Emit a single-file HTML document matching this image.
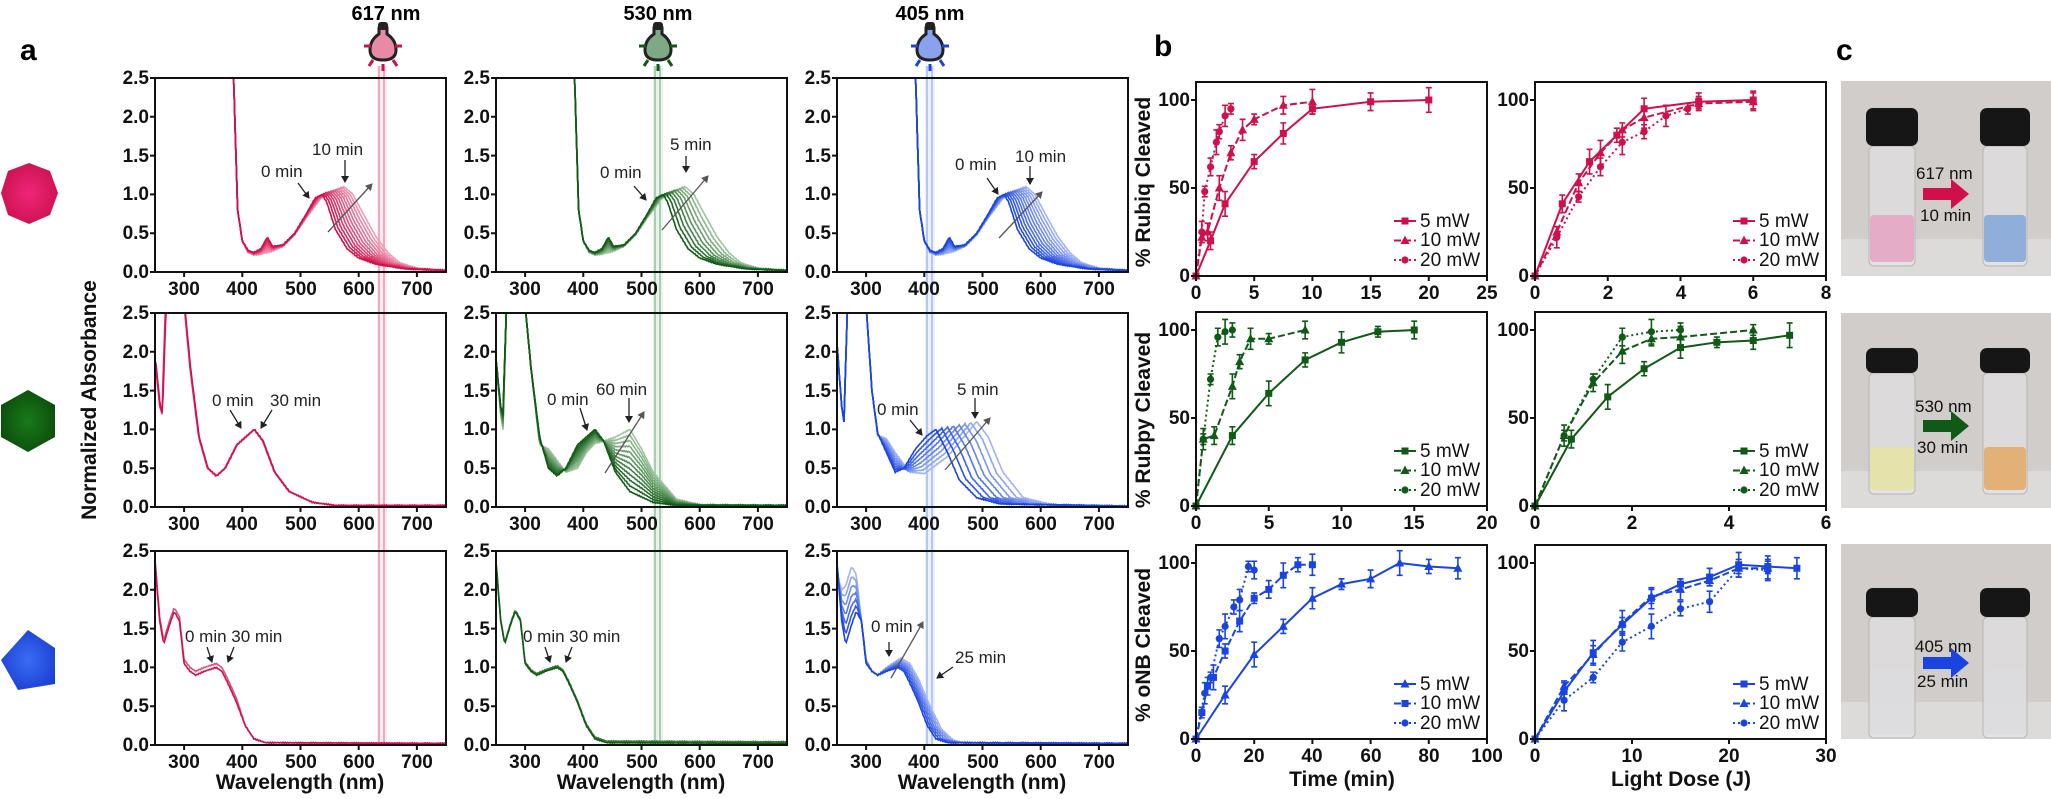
<!DOCTYPE html>
<html><head><meta charset="utf-8"><style>
html,body{margin:0;padding:0;background:#fff;}
svg{display:block;font-family:"Liberation Sans",Arial,sans-serif;}
.tk{font-size:19px;font-weight:bold;fill:#111;}
.an{font-size:17px;fill:#222;}
.lg{font-size:19px;fill:#111;}
.ttl{font-size:21px;font-weight:bold;fill:#111;}
.pl{font-size:30px;font-weight:bold;fill:#000;}
</style></head><body>
<svg id="s" xmlns="http://www.w3.org/2000/svg" width="2051" height="799" viewBox="0 0 2051 799">
<defs>
<radialGradient id="gr" cx="0.5" cy="0.5" r="0.6"><stop offset="0" stop-color="#f0257a"/><stop offset="1" stop-color="#c8104a"/></radialGradient>
<radialGradient id="gg" cx="0.5" cy="0.5" r="0.6"><stop offset="0" stop-color="#1a7a1a"/><stop offset="1" stop-color="#0a4a0a"/></radialGradient>
<radialGradient id="gb" cx="0.5" cy="0.5" r="0.6"><stop offset="0" stop-color="#3a6cf5"/><stop offset="1" stop-color="#1a3ed0"/></radialGradient>
</defs>
<g id="bg"></g>
<g id="curves"></g>
<g id="frames"></g>

<text class="pl" x="20" y="60">a</text>
<text class="pl" x="1154" y="56">b</text>
<text class="pl" x="1836" y="60">c</text>

<text x="386" y="20" text-anchor="middle" style="font-size:20px;font-weight:bold">617 nm</text>
<text x="658" y="20" text-anchor="middle" style="font-size:20px;font-weight:bold">530 nm</text>
<text x="930" y="20" text-anchor="middle" style="font-size:20px;font-weight:bold">405 nm</text>

<polygon points="29,163 50,171 58,193 50,215 29,224 8,215 1,193 8,171" fill="url(#gr)"/>
<polygon points="28,390 55,405 55,437 28,452 1,437 1,405" fill="url(#gg)"/>
<polygon points="28,630 55,648 55,684 18,690 1,660" fill="url(#gb)"/>

<text class="ttl" transform="translate(96,400) rotate(-90)" text-anchor="middle">Normalized Absorbance</text>
<text class="ttl" x="300" y="789" text-anchor="middle">Wavelength (nm)</text>
<text class="ttl" x="641" y="789" text-anchor="middle">Wavelength (nm)</text>
<text class="ttl" x="982" y="789" text-anchor="middle">Wavelength (nm)</text>
<text class="ttl" x="1342" y="786" text-anchor="middle">Time (min)</text>
<text class="ttl" x="1681" y="786" text-anchor="middle">Light Dose (J)</text>
<text class="ttl" transform="translate(1150,182) rotate(-90)" text-anchor="middle">% Rubiq Cleaved</text>
<text class="ttl" transform="translate(1150,420) rotate(-90)" text-anchor="middle">% Rubpy Cleaved</text>
<text class="ttl" transform="translate(1150,645) rotate(-90)" text-anchor="middle">% oNB Cleaved</text>

<g id="ta">
<g transform="translate(155,78)" class="tk"><g text-anchor="end"><text x="-6" y="200">0.0</text><text x="-6" y="161">0.5</text><text x="-6" y="122">1.0</text><text x="-6" y="84">1.5</text><text x="-6" y="45">2.0</text><text x="-6" y="6">2.5</text></g><g text-anchor="middle"><text x="29" y="217">300</text><text x="87" y="217">400</text><text x="146" y="217">500</text><text x="204" y="217">600</text><text x="262" y="217">700</text></g></g>
<g transform="translate(496,78)" class="tk"><g text-anchor="end"><text x="-6" y="200">0.0</text><text x="-6" y="161">0.5</text><text x="-6" y="122">1.0</text><text x="-6" y="84">1.5</text><text x="-6" y="45">2.0</text><text x="-6" y="6">2.5</text></g><g text-anchor="middle"><text x="29" y="217">300</text><text x="87" y="217">400</text><text x="146" y="217">500</text><text x="204" y="217">600</text><text x="262" y="217">700</text></g></g>
<g transform="translate(837,78)" class="tk"><g text-anchor="end"><text x="-6" y="200">0.0</text><text x="-6" y="161">0.5</text><text x="-6" y="122">1.0</text><text x="-6" y="84">1.5</text><text x="-6" y="45">2.0</text><text x="-6" y="6">2.5</text></g><g text-anchor="middle"><text x="29" y="217">300</text><text x="87" y="217">400</text><text x="146" y="217">500</text><text x="204" y="217">600</text><text x="262" y="217">700</text></g></g>
<g transform="translate(155,313)" class="tk"><g text-anchor="end"><text x="-6" y="200">0.0</text><text x="-6" y="161">0.5</text><text x="-6" y="122">1.0</text><text x="-6" y="84">1.5</text><text x="-6" y="45">2.0</text><text x="-6" y="6">2.5</text></g><g text-anchor="middle"><text x="29" y="217">300</text><text x="87" y="217">400</text><text x="146" y="217">500</text><text x="204" y="217">600</text><text x="262" y="217">700</text></g></g>
<g transform="translate(496,313)" class="tk"><g text-anchor="end"><text x="-6" y="200">0.0</text><text x="-6" y="161">0.5</text><text x="-6" y="122">1.0</text><text x="-6" y="84">1.5</text><text x="-6" y="45">2.0</text><text x="-6" y="6">2.5</text></g><g text-anchor="middle"><text x="29" y="217">300</text><text x="87" y="217">400</text><text x="146" y="217">500</text><text x="204" y="217">600</text><text x="262" y="217">700</text></g></g>
<g transform="translate(837,313)" class="tk"><g text-anchor="end"><text x="-6" y="200">0.0</text><text x="-6" y="161">0.5</text><text x="-6" y="122">1.0</text><text x="-6" y="84">1.5</text><text x="-6" y="45">2.0</text><text x="-6" y="6">2.5</text></g><g text-anchor="middle"><text x="29" y="217">300</text><text x="87" y="217">400</text><text x="146" y="217">500</text><text x="204" y="217">600</text><text x="262" y="217">700</text></g></g>
<g transform="translate(155,551)" class="tk"><g text-anchor="end"><text x="-6" y="200">0.0</text><text x="-6" y="161">0.5</text><text x="-6" y="122">1.0</text><text x="-6" y="84">1.5</text><text x="-6" y="45">2.0</text><text x="-6" y="6">2.5</text></g><g text-anchor="middle"><text x="29" y="217">300</text><text x="87" y="217">400</text><text x="146" y="217">500</text><text x="204" y="217">600</text><text x="262" y="217">700</text></g></g>
<g transform="translate(496,551)" class="tk"><g text-anchor="end"><text x="-6" y="200">0.0</text><text x="-6" y="161">0.5</text><text x="-6" y="122">1.0</text><text x="-6" y="84">1.5</text><text x="-6" y="45">2.0</text><text x="-6" y="6">2.5</text></g><g text-anchor="middle"><text x="29" y="217">300</text><text x="87" y="217">400</text><text x="146" y="217">500</text><text x="204" y="217">600</text><text x="262" y="217">700</text></g></g>
<g transform="translate(837,551)" class="tk"><g text-anchor="end"><text x="-6" y="200">0.0</text><text x="-6" y="161">0.5</text><text x="-6" y="122">1.0</text><text x="-6" y="84">1.5</text><text x="-6" y="45">2.0</text><text x="-6" y="6">2.5</text></g><g text-anchor="middle"><text x="29" y="217">300</text><text x="87" y="217">400</text><text x="146" y="217">500</text><text x="204" y="217">600</text><text x="262" y="217">700</text></g></g>
</g>

<g class="tk">
<g transform="translate(1196,82)"><g text-anchor="end"><text x="-6" y="200">0</text><text x="-6" y="112">50</text><text x="-6" y="24">100</text></g><g text-anchor="middle"><text x="0" y="217">0</text><text x="58" y="217">5</text><text x="116" y="217">10</text><text x="175" y="217">15</text><text x="233" y="217">20</text><text x="291" y="217">25</text></g></g>
<g transform="translate(1535,82)"><g text-anchor="end"><text x="-6" y="200">0</text><text x="-6" y="112">50</text><text x="-6" y="24">100</text></g><g text-anchor="middle"><text x="0" y="217">0</text><text x="73" y="217">2</text><text x="146" y="217">4</text><text x="218" y="217">6</text><text x="291" y="217">8</text></g></g>
<g transform="translate(1196,312)"><g text-anchor="end"><text x="-6" y="200">0</text><text x="-6" y="112">50</text><text x="-6" y="24">100</text></g><g text-anchor="middle"><text x="0" y="217">0</text><text x="73" y="217">5</text><text x="146" y="217">10</text><text x="218" y="217">15</text><text x="291" y="217">20</text></g></g>
<g transform="translate(1535,312)"><g text-anchor="end"><text x="-6" y="200">0</text><text x="-6" y="112">50</text><text x="-6" y="24">100</text></g><g text-anchor="middle"><text x="0" y="217">0</text><text x="97" y="217">2</text><text x="194" y="217">4</text><text x="291" y="217">6</text></g></g>
<g transform="translate(1196,545)"><g text-anchor="end"><text x="-6" y="200">0</text><text x="-6" y="112">50</text><text x="-6" y="24">100</text></g><g text-anchor="middle"><text x="0" y="217">0</text><text x="58" y="217">20</text><text x="116" y="217">40</text><text x="175" y="217">60</text><text x="233" y="217">80</text><text x="291" y="217">100</text></g></g>
<g transform="translate(1535,545)"><g text-anchor="end"><text x="-6" y="200">0</text><text x="-6" y="112">50</text><text x="-6" y="24">100</text></g><g text-anchor="middle"><text x="0" y="217">0</text><text x="97" y="217">10</text><text x="194" y="217">20</text><text x="291" y="217">30</text></g></g>
</g>

<g class="lg">
<g transform="translate(1196,82)"><text x="224" y="145">5 mW</text><text x="224" y="164">10 mW</text><text x="224" y="184">20 mW</text></g>
<g transform="translate(1535,82)"><text x="224" y="145">5 mW</text><text x="224" y="164">10 mW</text><text x="224" y="184">20 mW</text></g>
<g transform="translate(1196,312)"><text x="224" y="145">5 mW</text><text x="224" y="164">10 mW</text><text x="224" y="184">20 mW</text></g>
<g transform="translate(1535,312)"><text x="224" y="145">5 mW</text><text x="224" y="164">10 mW</text><text x="224" y="184">20 mW</text></g>
<g transform="translate(1196,545)"><text x="224" y="145">5 mW</text><text x="224" y="164">10 mW</text><text x="224" y="184">20 mW</text></g>
<g transform="translate(1535,545)"><text x="224" y="145">5 mW</text><text x="224" y="164">10 mW</text><text x="224" y="184">20 mW</text></g>
</g>

<g class="an">
<text x="261" y="177">0 min</text><text x="312" y="155">10 min</text>
<text x="600" y="178">0 min</text><text x="670" y="150">5 min</text>
<text x="955" y="170">0 min</text><text x="1015" y="162">10 min</text>
<text x="212" y="406">0 min</text><text x="270" y="406">30 min</text>
<text x="547" y="405">0 min</text><text x="596" y="395">60 min</text>
<text x="877" y="415">0 min</text><text x="957" y="395">5 min</text>
<text x="185" y="642">0 min 30 min</text>
<text x="523" y="642">0 min 30 min</text>
<text x="871" y="632">0 min</text><text x="955" y="663">25 min</text>
</g>
<g id="arrows"></g>

<g id="photos"></g>
<g style="font-size:17px;fill:#111">
<text x="1916" y="179">617 nm</text><text x="1920" y="221">10 min</text>
<text x="1915" y="412">530 nm</text><text x="1917" y="453">30 min</text>
<text x="1915" y="652">405 nm</text><text x="1917" y="687">25 min</text>
</g>
</svg>
<script>
const NS='http://www.w3.org/2000/svg';
function el(tag,a,p){const e=document.createElementNS(NS,tag);for(const k in a)e.setAttribute(k,a[k]);(p||document.getElementById('curves')).appendChild(e);return e;}
const L=[155,496,837],T=[78,313,551],W=291,H=194;
const curves=document.getElementById('curves'),frames=document.getElementById('frames'),bg=document.getElementById('bg');
function X(c,nm){return L[c]+(nm-250)*W/500}
function Y(r,a){return T[r]+H-a*H/2.5}
function hex(c){return [parseInt(c.substr(1,2),16),parseInt(c.substr(3,2),16),parseInt(c.substr(5,2),16)]}
function lc(a,b,t){const A=hex(a),B=hex(b);return 'rgb('+A.map((v,i)=>Math.round(v+(B[i]-v)*t)).join(',')+')'}
function interp(p,nm){if(nm<=p[0][0])return p[0][1];for(let i=1;i<p.length;i++){if(nm<=p[i][0]){const f=(nm-p[i-1][0])/(p[i][0]-p[i-1][0]||1);return p[i-1][1]+f*(p[i][1]-p[i-1][1]);}}return p[p.length-1][1]}
const defs=document.querySelector('defs');
for(let r=0;r<3;r++)for(let c=0;c<3;c++){const cp=el('clipPath',{id:'c'+r+c},defs);el('rect',{x:L[c],y:T[r],width:W,height:H},cp);}
const bands=[[381,'#e0507a'],[657,'#4a9a5a'],[929,'#6a8af0']];
bands.forEach(b=>{el('rect',{x:b[0]-4,y:66,width:10,height:679,fill:b[1],opacity:0.12},bg);el('line',{x1:b[0]-2,y1:66,x2:b[0]-2,y2:745,stroke:b[1],'stroke-width':1.5,opacity:0.55},bg);el('line',{x1:b[0]+3,y1:66,x2:b[0]+3,y2:745,stroke:b[1],'stroke-width':1.5,opacity:0.55},bg);});
function draw(r,c,pts,col){let d='';for(let nm=250;nm<=750;nm+=2){const a=Math.min(interp(pts,nm)+ (Math.sin(nm*1.7)*0.006),2.7);d+=(d?'L':'M')+X(c,nm).toFixed(1)+','+Y(r,a).toFixed(1);}el('path',{d:d,fill:'none',stroke:col,'stroke-width':1.6,'clip-path':'url(#c'+r+c+')'});}
function shiftSeries(r,c,S,E,n,c0,c1){for(let i=n-1;i>=0;i--){const t=i/(n-1);const P=S.map((p,k)=>[p[0]+(E[k][0]-p[0])*t,p[1]+(E[k][1]-p[1])*t]);draw(r,c,P,lc(c0,c1,t*0.85));}}
function blendSeries(r,c,S,E,n,c0,c1){for(let i=n-1;i>=0;i--){const t=i/(n-1);const P=[];for(let nm=250;nm<=750;nm+=2)P.push([nm,interp(S,nm)*(1-t)+interp(E,nm)*t]);draw(r,c,P,lc(c0,c1,t*0.85));}}
const RED0='#d0104a',RED1='#f7b5c8',GR0='#0f5a14',GR1='#b8d8b8',BL0='#1a44e0',BL1='#b8c8f8';
const R1S=[[250,5],[380,5],[385,2.5],[392,0.8],[400,0.4],[410,0.28],[420,0.25],[432,0.3],[443,0.45],[452,0.33],[470,0.35],[490,0.5],[510,0.75],[525,0.95],[537,1.0],[545,0.9],[560,0.55],[580,0.3],[600,0.18],[630,0.1],[680,0.04],[750,0.02]];
const R1E=[[250,5],[380,5],[385,2.5],[392,0.8],[400,0.4],[410,0.25],[420,0.22],[432,0.23],[443,0.25],[452,0.27],[470,0.33],[490,0.48],[510,0.7],[535,0.95],[575,1.1],[590,1.0],[610,0.72],[630,0.45],[650,0.25],[670,0.12],[700,0.05],[750,0.02]];
shiftSeries(0,0,R1S,R1E,12,RED0,RED1);
shiftSeries(0,1,R1S,R1E,9,GR0,GR1);
shiftSeries(0,2,R1S,R1E,12,BL0,BL1);
const P2=[[250,1.9],[258,1.3],[262,1.2],[268,2.6],[300,2.6],[310,1.8],[325,0.9],[340,0.5],[355,0.4],[370,0.5],[390,0.8],[405,0.9],[420,1.0],[435,0.85],[455,0.45],[480,0.2],[520,0.06],[560,0.02],[750,0.02]];
draw(1,0,P2,'#e0306a');draw(1,0,P2.map(p=>[p[0]+1,p[1]]),RED0);
const P2E=[[250,1.9],[258,1.2],[262,1.0],[268,2.6],[300,2.6],[310,1.8],[325,0.8],[340,0.75],[355,0.6],[370,0.45],[390,0.5],[405,0.7],[420,0.82],[435,0.85],[455,0.9],[480,1.0],[500,0.75],[520,0.45],[560,0.1],[600,0.03],[750,0.02]];
blendSeries(1,1,P2,P2E,12,GR0,GR1);
const B2S=[[250,2.1],[258,1.3],[262,1.1],[268,2.6],[300,2.6],[310,1.5],[320,0.95],[335,0.7],[350,0.45],[365,0.5],[385,0.75],[405,0.92],[420,1.0],[440,0.7],[460,0.35],[490,0.12],[530,0.04],[750,0.01]];
const B2E=[[250,2.1],[258,1.3],[262,1.1],[268,2.6],[300,2.6],[310,1.5],[320,0.92],[335,0.88],[350,0.7],[375,0.45],[400,0.43],[440,0.65],[490,1.1],[510,0.9],[535,0.45],[570,0.12],[620,0.03],[750,0.01]];
shiftSeries(1,2,B2S,B2E,8,BL0,BL1);
const R3=[[250,2.35],[258,1.6],[265,1.3],[275,1.55],[283,1.72],[292,1.6],[300,1.05],[310,0.95],[320,0.9],[335,0.95],[355,1.0],[365,0.95],[375,0.8],[390,0.55],[405,0.25],[420,0.08],[440,0.03],[750,0.02]];
draw(2,0,R3.map(p=>[p[0],p[0]<400?p[1]+0.05:p[1]]),'#e0507a');draw(2,0,R3,RED0);
draw(2,1,R3.map(p=>[p[0],p[1]+0.02]),'#3a7a3a');draw(2,1,R3,GR0);
const R3E=[[250,2.2],[258,2.0],[265,2.05],[275,2.3],[283,2.2],[292,1.6],[300,1.1],[310,0.95],[320,0.9],[335,1.0],[360,1.12],[375,1.05],[390,0.85],[410,0.5],[430,0.2],[450,0.06],[470,0.03],[750,0.02]];
shiftSeries(2,2,R3,R3E,7,BL0,BL1);
for(let r=0;r<3;r++)for(let c=0;c<3;c++){
 el('rect',{x:L[c],y:T[r],width:W,height:H,fill:'none',stroke:'#111','stroke-width':2},frames);
 let d='';for(let a=0;a<=2.5;a+=0.5){d+='M'+(L[c]-5)+','+Y(r,a)+'h5';}
 for(let nm=300;nm<=700;nm+=100){d+='M'+X(c,nm)+','+(T[r]+H)+'v5';}
 el('path',{d:d,stroke:'#111','stroke-width':2,fill:'none'},frames);}
const AR=document.getElementById('arrows');
const mk=el('marker',{id:'ah',markerWidth:8,markerHeight:8,refX:6,refY:4,orient:'auto',markerUnits:'userSpaceOnUse'},defs);el('path',{d:'M0,0L7,4L0,8z',fill:'#222'},mk);
const mk2=el('marker',{id:'ag',markerWidth:8,markerHeight:8,refX:6,refY:4,orient:'auto',markerUnits:'userSpaceOnUse'},defs);el('path',{d:'M0,0L7,4L0,8z',fill:'#555'},mk2);
function arr(x1,y1,x2,y2,g){el('line',{x1:x1,y1:y1,x2:x2,y2:y2,stroke:g?'#555':'#222','stroke-width':1.3,'marker-end':g?'url(#ag)':'url(#ah)'},AR);}
arr(298,183,309,198);arr(345,160,345,182);arr(328,232,372,184,1);
arr(634,186,646,200);arr(686,156,686,172);arr(662,230,708,176,1);
arr(987,178,998,194);arr(1030,166,1030,184);arr(999,238,1042,192,1);
arr(230,410,241,428);arr(272,410,261,428);
arr(580,408,587,430);arr(629,398,629,422);arr(605,473,644,412,1);
arr(910,420,922,435);arr(975,398,975,418);arr(945,470,990,418,1);
arr(207,647,212,662);arr(234,647,228,662);
arr(545,647,550,662);arr(572,647,566,662);
arr(889,642,889,656);arr(953,667,937,678);arr(891,678,923,622,1);
function lamp(x,col,fill){const g=el('g',{},bg);
 el('path',{d:`M${x-4},${28} h8 v6 q9,6 9,16 q0,10 -13,10 q-13,0 -13,-10 q0,-10 9,-16z`,fill:fill,stroke:'#222','stroke-width':3},g);
 el('rect',{x:x-5,y:22,width:10,height:8,rx:3,fill:'#222'},g);
 const L2=[[x-19,46,x-12,46],[x+12,46,x+19,46],[x,64,x,71],[x-10,60,x-14,66],[x+10,60,x+14,66]];
 L2.forEach(l=>el('line',{x1:l[0],y1:l[1],x2:l[2],y2:l[3],stroke:col,'stroke-width':3},g));}
lamp(383,'#d0104a','#e88aa5');lamp(658,'#0f5a14','#7fa884');lamp(930,'#1a44e0','#8aa2ee');
const BL=[1196,1535],BT=[82,312,545],XM=[[25,8],[20,6],[100,30]];
const RC='#d0104a',GC='#0f5a14',BC='#1a44e0';
const bdata=[
 [[[0,0],[1.25,20],[2.5,41],[5,65],[7.5,81],[10,95],[15,99],[20,100]],[[0,0],[0.5,22],[1,25],[2,50],[3,70],[4,83],[5,89],[7.5,97],[10,99]],[[0,0],[0.5,25],[0.75,48],[1.25,62],[1.75,76],[2,82],[2.5,91],[3,95]]],
 [[[0,0],[0.75,41],[1.5,65],[2.25,80],[3,95],[4.5,99],[6,100]],[[0,0],[0.6,25],[1.2,53],[1.8,70],[2.4,83],[3,90],[4.5,98],[6,99]],[[0,0],[0.6,22],[1.2,45],[1.8,62],[2.4,76],[3,82],[3.6,91],[4.2,95],[4.5,99]]],
 [[[0,0],[2.5,40],[5,64],[7.5,83],[10,93],[12.5,99],[15,100]],[[0,0],[0.5,38],[1.25,40],[2.5,68],[3,82],[3.75,95],[5,95],[7.5,100]],[[0,0],[0.5,38],[1,72],[1.5,96],[2,99],[2.5,100]]],
 [[[0,0],[0.75,38],[1.5,62],[2.25,78],[3,90],[3.75,93],[4.5,94],[5.25,97]],[[0,0],[0.6,40],[1.2,70],[1.8,88],[2.4,95],[3,96],[4.5,100]],[[0,0],[0.6,40],[1.2,72],[1.8,96],[2.4,99],[3,100]]],
 [[[0,0],[10,25],[20,48],[30,64],[40,80],[50,88],[60,91],[70,100],[80,98],[90,97]],[[0,0],[2,15],[4,30],[6,35],[10,50],[15,67],[20,80],[25,85],[30,93],[35,99],[40,99]],[[0,0],[3,26],[5,35],[8,57],[10,64],[13,75],[15,79],[18,98],[20,96]]],
 [[[0,0],[3,27],[6,49],[9,65],[12,80],[15,88],[18,92],[21,99],[24,98],[27,97]],[[0,0],[3,30],[6,48],[9,66],[12,81],[15,85],[18,90],[21,97],[24,97]],[[0,0],[3,22],[6,35],[9,55],[12,64],[15,74],[18,78],[21,97],[24,96]]]];
const cols=[RC,GC,BC];
function marker(g,type,x,y,col){if(type=='s')el('rect',{x:x-3.5,y:y-3.5,width:7,height:7,fill:col},g);else if(type=='t')el('path',{d:`M${x},${y-5}L${x+4.5},${y+3.5}L${x-4.5},${y+3.5}z`,fill:col},g);else el('circle',{cx:x,cy:y,r:3.6,fill:col},g);}
const dashes=['','7,3','2,3'];
for(let r=0;r<3;r++)for(let c=0;c<2;c++){
 const bx=v=>BL[c]+v*W/XM[r][c],by=p=>BT[r]+18+(100-p)*1.76;const col=cols[r];const g=el('g',{},curves);
 let mt=['s','t','c'];if(r==2&&c==0)mt=['t','s','c'];
 bdata[r*2+c].forEach((ser,si)=>{
  el('path',{d:ser.map((p,i)=>(i?'L':'M')+bx(p[0])+','+by(p[1])).join(''),fill:'none',stroke:col,'stroke-width':2,'stroke-dasharray':dashes[si]},g);
  ser.forEach((p,i)=>{if(i>0){const e=3+((i*7+si*3)%5);el('path',{d:`M${bx(p[0])},${by(p[1]-e)}V${by(p[1]+e)}M${bx(p[0])-3},${by(p[1]-e)}h6M${bx(p[0])-3},${by(p[1]+e)}h6`,stroke:col,'stroke-width':1.6,fill:'none'},g);}marker(g,mt[si],bx(p[0]),by(p[1]),col);});
  const ly=BT[r]+139+si*19.5;el('path',{d:`M${BL[c]+198},${ly}h22`,stroke:col,'stroke-width':2,'stroke-dasharray':dashes[si]},g);marker(g,mt[si],BL[c]+209,ly,col);
 });
 el('rect',{x:BL[c],y:BT[r],width:W,height:194,fill:'none',stroke:'#111','stroke-width':2},frames);
 let d='';[0,50,100].forEach(p=>d+='M'+(BL[c]-5)+','+by(p)+'h5');
 const ticks={25:[0,5,10,15,20,25],8:[0,2,4,6,8],20:[0,5,10,15,20],6:[0,2,4,6],100:[0,20,40,60,80,100],30:[0,10,20,30]}[XM[r][c]];
 ticks.forEach(v=>d+='M'+bx(v)+','+(BT[r]+194)+'v5');
 el('path',{d:d,stroke:'#111','stroke-width':2,fill:'none'},frames);}
const PH=document.getElementById('photos');
const pinfo=[[81,'#e4a6c4','#86a8d8',27,65,134,181,'#d0104a'],[313,'#e6e2a6','#e2ac6c',35,60,134,177,'#0f5a14'],[544,'#dcdcde','#dcdcde',44,73,125,190,'#1a44e0']];
pinfo.forEach(p=>{const t=p[0];
 el('rect',{x:1841,y:t,width:210,height:195,fill:'#d0cdca'},PH);
 el('rect',{x:1841,y:t+158,width:210,height:37,fill:'#dddbd9'},PH);
 [[1866,1918,p[1]],[1980,2030,p[2]]].forEach(v=>{
  el('rect',{x:v[0]+3,y:t+p[4],width:v[1]-v[0]-6,height:p[6]-p[4]+4,rx:5,fill:'rgba(236,236,238,0.45)',stroke:'#b8b5b2','stroke-width':1},PH);
  el('rect',{x:v[0]+4,y:t+p[5],width:v[1]-v[0]-8,height:p[6]-p[5],rx:4,fill:v[2],opacity:0.9},PH);
  el('rect',{x:v[0],y:t+p[3],width:v[1]-v[0],height:p[4]-p[3],rx:7,fill:'#161616'},PH);});
 const ay=t+(p[0]==544?119:113);
 el('path',{d:`M1923,${ay-6}h28v-9l18,15l-18,15v-9h-28z`,fill:p[7]},PH);});
</script>
</body></html>
